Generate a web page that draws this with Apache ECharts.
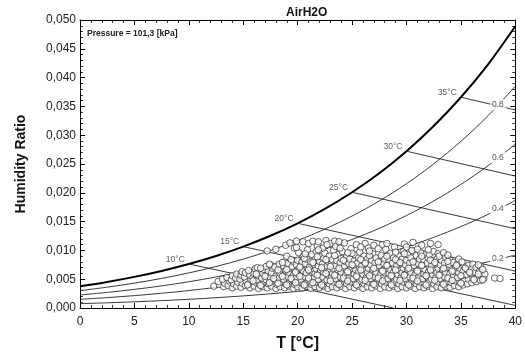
<!DOCTYPE html>
<html><head><meta charset="utf-8">
<script src="https://cdn.jsdelivr.net/npm/echarts@6/dist/echarts.min.js"></script>
<style>html,body{margin:0;padding:0;background:#fff}#c{width:525px;height:357px}</style>
</head><body><div id="c"></div>
<script>
const FONT = '"Liberation Sans", Arial, Helvetica, sans-serif';

// Dry-bulb temperature grid for the relative-humidity curves [°C]
const tGrid = [0,2.5,5,7.5,10,12.5,15,17.5,20,22.5,25,27.5,30,32.5,35,37.5,40];
// Humidity ratio [kg/kg] along each relative-humidity curve
const rh100 = [0.003776,0.004528,0.005405,0.006437,0.007634,0.009031,0.010653,0.012538,0.014703,0.017201,0.020091,0.023403,0.027217,0.031598,0.036594,0.042313,0.048906];
const rh80  = [0.003017,0.003617,0.004316,0.005139,0.006092,0.007204,0.008493,0.009990,0.011707,0.013708,0.015970,0.018583,0.021584,0.025025,0.028935,0.033396,0.038520];
const rh60  = [0.002260,0.002709,0.003231,0.003846,0.004558,0.005387,0.006348,0.007463,0.008739,0.010224,0.011901,0.013834,0.016049,0.018582,0.021452,0.024715,0.028449];
const rh40  = [0.001505,0.001803,0.002151,0.002559,0.003031,0.003581,0.004218,0.004955,0.005799,0.006779,0.007884,0.009155,0.010608,0.012266,0.014139,0.016262,0.018681];
const rh20  = [0.000751,0.000900,0.001073,0.001277,0.001512,0.001785,0.002102,0.002468,0.002886,0.003371,0.003917,0.004544,0.005259,0.006073,0.006990,0.008026,0.009202];

// Wet-bulb lines: start on saturation, end on chart border
const wetBulbLabels = ['10°C','15°C','20°C','25°C','30°C','35°C'];
const wetBulbStart = [[10,0.007634],[15,0.010653],[20,0.014703],[25,0.020091],[30,0.027217],[35,0.036594]];
const wetBulbEnd   = [[28.8,0],[40,0.000446],[40,0.006409],[40,0.013757],[40,0.022904],[40,0.034383]];

// Relative humidity labels
const rhLabels = ['0.8','0.6','0.4','0.2'];
const rhLabelPos = [[38.4,0.0353],[38.4,0.0261],[38.4,0.0172],[38.4,0.0085]];

// Measured states: [T °C, humidity ratio g/kg]
const measured_gkg = [
[12.3,3.8],[12.8,4.1],[12.7,4.6],[13.2,3.7],[13.3,4.3],[13.1,5.0],[13.6,3.9],[13.7,4.7],[13.5,5.3],
[14.0,3.5],[14.1,4.2],[13.9,4.9],[14.0,5.6],[14.4,3.8],[14.5,4.5],[14.3,5.2],[14.4,5.9],
[14.8,3.6],[14.9,4.3],[14.7,5.0],[14.8,5.7],[14.9,6.3],[15.2,3.9],[15.3,4.6],[15.1,5.4],[15.2,6.1],
[15.6,3.5],[15.5,4.2],[15.7,4.9],[15.6,5.7],[15.5,6.5],
[16.0,3.8],[16.1,4.5],[15.9,5.3],[16.0,6.0],[16.1,6.8],
[16.4,3.4],[16.5,4.1],[16.3,4.9],[16.4,5.6],[16.5,6.4],[16.3,7.0],
[16.8,3.7],[16.9,4.5],[16.7,5.2],[16.8,6.0],[16.9,6.7],
[17.2,3.5],[17.3,4.2],[17.1,4.9],[17.2,5.7],[17.3,6.4],[17.1,7.2],[17.2,9.9],
[17.6,3.8],[17.7,4.6],[17.5,5.3],[17.6,6.1],[17.7,6.9],[17.5,7.5],
[18.0,3.4],[18.1,4.1],[17.9,4.9],[18.0,5.6],[18.1,6.4],[17.9,7.1],[18.0,10.2],
[18.4,3.7],[18.5,4.5],[18.3,5.2],[18.4,6.0],[18.5,6.8],[18.3,7.6],
[18.8,3.5],[18.9,4.2],[18.7,5.0],[18.8,5.7],[18.9,6.5],[18.7,7.3],[18.8,8.0],[18.9,10.9],
[19.2,3.8],[19.3,4.6],[19.1,5.4],[19.2,6.2],[19.3,6.9],[19.1,7.7],[19.0,9.0],[19.3,11.3],
[19.6,3.4],[19.7,4.1],[19.5,4.9],[19.6,5.7],[19.7,6.4],[19.5,7.2],[19.6,8.1],[19.7,10.4],
[20.0,3.7],[20.1,4.5],[19.9,5.3],[20.0,6.0],[20.1,6.8],[19.9,7.5],[20.0,8.3],[20.1,9.6],[19.9,11.6],
[20.4,3.5],[20.5,4.2],[20.3,5.0],[20.4,5.8],[20.5,6.5],[20.3,7.3],[20.4,8.0],[20.5,8.9],[20.5,11.5],
[20.8,3.8],[20.9,4.6],[20.7,5.4],[20.8,6.1],[20.9,6.9],[20.7,7.7],[20.8,8.5],[20.9,10.1],[21.0,11.2],
[21.2,3.4],[21.3,4.1],[21.1,4.9],[21.2,5.6],[21.3,6.4],[21.1,7.2],[21.2,8.0],[21.3,9.3],[21.4,11.6],
[21.6,3.7],[21.7,4.5],[21.5,5.3],[21.6,6.0],[21.7,6.8],[21.5,7.6],[21.6,8.4],[21.7,9.8],[21.8,10.8],
[22.0,3.5],[22.1,4.3],[21.9,5.0],[22.0,5.8],[22.1,6.6],[21.9,7.3],[22.0,8.1],[22.1,8.9],[21.9,11.5],
[22.4,3.8],[22.5,4.6],[22.3,5.4],[22.4,6.2],[22.5,6.9],[22.3,7.7],[22.4,8.6],[22.5,9.5],[22.3,10.4],[22.6,11.7],
[22.8,3.4],[22.9,4.2],[22.7,4.9],[22.8,5.7],[22.9,6.5],[22.7,7.3],[22.8,8.1],[22.9,9.0],[23.0,11.2],
[23.2,3.7],[23.3,4.5],[23.1,5.3],[23.2,6.0],[23.3,6.8],[23.1,7.6],[23.2,8.4],[23.3,10.0],[23.4,11.6],
[23.6,3.5],[23.7,4.3],[23.5,5.1],[23.6,5.9],[23.7,6.6],[23.5,7.4],[23.6,8.2],[23.7,9.3],[23.5,10.7],[23.8,11.5],
[24.0,3.8],[24.1,4.6],[23.9,5.4],[24.0,6.2],[24.1,7.0],[23.9,7.8],[24.0,8.6],[24.1,9.8],
[24.4,3.4],[24.5,4.2],[24.3,5.0],[24.4,5.7],[24.5,6.5],[24.3,7.3],[24.4,8.1],[24.5,8.9],[24.3,11.3],
[24.8,3.7],[24.9,4.5],[24.7,5.3],[24.8,6.1],[24.9,6.9],[24.7,7.7],[24.8,8.5],[24.9,10.3],
[25.2,3.5],[25.3,4.3],[25.1,5.1],[25.2,5.9],[25.3,6.7],[25.1,7.4],[25.2,8.2],[25.3,9.2],[25.4,11.0],
[25.6,3.8],[25.7,4.6],[25.5,5.4],[25.6,6.2],[25.7,7.0],[25.5,7.8],[25.6,8.7],[25.7,9.7],
[26.0,3.4],[26.1,4.2],[25.9,5.0],[26.0,5.8],[26.1,6.6],[25.9,7.4],[26.0,8.2],[26.1,9.0],[26.2,11.2],
[26.4,3.7],[26.5,4.5],[26.3,5.3],[26.4,6.1],[26.5,6.9],[26.3,7.7],[26.4,8.5],[26.5,10.4],
[26.8,3.5],[26.9,4.3],[26.7,5.1],[26.8,5.9],[26.9,6.7],[26.7,7.5],[26.8,8.3],[26.9,9.4],[27.0,10.9],
[27.2,3.8],[27.3,4.6],[27.1,5.4],[27.2,6.2],[27.3,7.0],[27.1,7.8],[27.2,8.7],
[27.6,3.4],[27.7,4.2],[27.5,5.0],[27.6,5.8],[27.7,6.6],[27.5,7.4],[27.6,8.2],[27.7,9.1],[27.8,11.0],
[28.0,3.7],[28.1,4.5],[27.9,5.3],[28.0,6.1],[28.1,6.9],[27.9,7.7],[28.0,8.5],[28.1,10.2],
[28.4,3.5],[28.5,4.3],[28.3,5.1],[28.4,5.9],[28.5,6.7],[28.3,7.5],[28.4,8.3],[28.5,9.5],
[28.8,3.8],[28.9,4.6],[28.7,5.4],[28.8,6.2],[28.9,7.0],[28.7,7.8],[28.8,8.7],[28.9,10.6],
[29.2,3.4],[29.3,4.2],[29.1,5.0],[29.2,5.8],[29.3,6.6],[29.1,7.4],[29.2,8.2],[29.3,9.0],
[29.6,3.7],[29.7,4.5],[29.5,5.3],[29.6,6.1],[29.7,6.9],[29.5,7.7],[29.6,8.5],[29.7,9.8],[29.8,11.1],
[30.0,3.5],[30.1,4.3],[29.9,5.1],[30.0,5.9],[30.1,6.7],[29.9,7.5],[30.0,8.3],[30.1,9.3],
[30.4,3.8],[30.5,4.6],[30.3,5.4],[30.4,6.2],[30.5,7.0],[30.3,7.8],[30.4,8.7],[30.5,10.0],[30.6,11.4],
[30.8,3.4],[30.9,4.2],[30.7,5.0],[30.8,5.8],[30.9,6.6],[30.7,7.4],[30.8,8.2],[30.9,9.1],
[31.2,3.7],[31.3,4.5],[31.1,5.3],[31.2,6.1],[31.3,6.9],[31.1,7.7],[31.2,8.5],[31.3,9.6],[31.4,10.9],
[31.6,3.5],[31.7,4.3],[31.5,5.1],[31.6,5.9],[31.7,6.7],[31.5,7.5],[31.6,8.3],
[32.0,3.8],[32.1,4.6],[31.9,5.4],[32.0,6.2],[32.1,7.0],[31.9,7.8],[32.0,8.7],[32.1,9.3],[32.2,11.2],
[32.4,3.4],[32.5,4.2],[32.3,5.0],[32.4,5.8],[32.5,6.6],[32.3,7.4],[32.4,8.2],[32.5,9.8],
[32.8,3.7],[32.9,4.5],[32.7,5.3],[32.8,6.1],[32.9,6.9],[32.7,7.7],[32.8,8.5],[32.9,9.4],[32.9,11.0],
[33.2,3.5],[33.3,4.3],[33.1,5.1],[33.2,5.9],[33.3,6.7],[33.1,7.5],[33.2,8.3],
[33.6,3.8],[33.7,4.6],[33.5,5.4],[33.6,6.2],[33.7,7.0],[33.5,7.8],[33.6,8.8],
[34.0,3.6],[34.1,4.4],[33.9,5.2],[34.0,6.0],[34.1,6.8],[33.9,7.6],[34.0,8.3],
[34.4,3.9],[34.5,4.7],[34.3,5.5],[34.4,6.3],[34.5,7.1],[34.3,7.9],
[34.8,3.7],[34.9,4.5],[34.7,5.3],[34.8,6.1],[34.9,6.9],[34.7,7.7],[34.8,8.5],
[35.2,4.0],[35.3,4.8],[35.1,5.6],[35.2,6.4],[35.3,7.2],[35.1,8.0],
[35.6,4.2],[35.7,5.0],[35.5,5.8],[35.6,6.6],[35.7,7.4],
[36.0,4.4],[36.1,5.2],[35.9,6.0],[36.0,6.8],[36.1,7.6],
[36.4,4.6],[36.5,5.4],[36.3,6.2],[36.4,7.0],
[36.8,4.8],[36.9,5.6],[36.7,6.4],[36.8,7.2],
[37.1,5.1],[37.2,5.9],[37.0,6.7],
[38.1,5.2],[38.6,5.1],
[15.4,4.0],[15.9,4.7],[16.2,5.9],[16.6,3.9],[16.6,6.9],[17.0,5.5],[17.4,4.4],[17.4,7.6],[17.8,5.1],[18.2,4.3],
[18.2,6.6],[18.6,5.5],[18.6,7.9],[19.0,4.0],[19.0,6.7],[19.4,5.1],[19.4,8.4],[19.8,6.2],[19.8,4.4],[20.2,7.1],
[20.2,5.5],[20.6,4.0],[20.6,8.6],[21.0,6.6],[21.0,5.2],[21.4,7.9],[21.4,4.4],[21.8,5.7],[21.8,8.9],[22.2,7.0],
[22.2,4.0],[22.6,6.0],[22.6,8.4],[23.0,4.7],[23.0,7.2],[23.4,5.7],[23.4,9.1],[23.8,6.9],[23.8,4.1],[24.2,8.3],
[24.2,5.2],[24.6,6.3],[24.6,4.7],[25.0,7.5],[25.0,9.5],[25.4,5.5],[25.4,4.0],[25.8,6.6],[25.8,8.4],[26.2,4.8],
[26.2,7.8],[26.6,5.6],[26.6,9.1],[27.0,6.9],[27.0,4.1],[27.4,8.0],[27.4,5.2],[27.8,6.4],[27.8,4.7],[28.2,7.4],
[28.2,9.0],[28.6,5.6],[28.6,4.0],[29.0,6.6],[29.0,8.4],[29.4,4.8],[29.4,7.9],[29.8,5.7],[29.8,9.4],[30.2,6.9],
[30.2,4.0],[30.6,8.0],[30.6,5.2],[31.0,6.4],[31.0,4.7],[31.4,7.4],[31.4,9.0],[31.8,5.6],[31.8,4.0],[32.2,6.6],
[32.2,8.3],[32.6,4.8],[32.6,7.9],[33.0,5.7],[33.0,9.0],[33.4,6.9],[33.4,4.1],[33.8,8.1],[33.8,5.2],[34.2,6.4],
[34.2,4.8],[34.6,7.4],[35.0,5.6],[35.0,4.3],[35.4,6.9],[35.8,6.2],[36.2,4.9],[36.6,5.9],[36.6,7.5],[37.0,4.9],
[19.9,10.5],[20.7,9.4],[21.9,10.1],[22.7,11.0],[23.9,10.4],[24.6,9.6],[25.8,10.6],[26.6,9.9],[27.4,10.3],[28.2,11.2],
[29.0,9.7],[30.0,10.6],[31.0,10.2],[32.0,10.1],[33.4,9.6],[33.8,9.2]
];

const thin = {color:'#222', width:0.9};
function rhSeries(arr, bold){
  return {type:'line', data:tGrid.map((t,i)=>[t,arr[i]]), showSymbol:false, symbol:'none',
    smooth:0.35, silent:true, z:2,
    lineStyle: bold ? {color:'#000', width:2} : thin};
}
const series = [
  rhSeries(rh100,true), rhSeries(rh80), rhSeries(rh60), rhSeries(rh40), rhSeries(rh20)
];
wetBulbStart.forEach((s,i)=>{
  series.push({type:'line', data:[s, wetBulbEnd[i]], showSymbol:false, symbol:'none', silent:true, z:2, lineStyle:thin});
});
series.push({type:'scatter', data:measured_gkg.map(p=>[p[0], p[1]/1000]), symbol:'circle', symbolSize:6.5, z:5,
  itemStyle:{color:'#fff', borderColor:'#2a2a2a', borderWidth:0.9}});
series.push({type:'scatter', data:wetBulbStart, symbolSize:0.1, z:6, silent:true,
  itemStyle:{color:'rgba(0,0,0,0)'},
  label:{show:true, position:'left', distance:4, offset:[0,-4.5], fontSize:8.5, color:'#333', fontFamily:FONT,
    formatter:p=>wetBulbLabels[p.dataIndex]}});
series.push({type:'scatter', data:rhLabelPos, symbolSize:0.1, z:6, silent:true,
  itemStyle:{color:'rgba(0,0,0,0)'},
  label:{show:true, position:'inside', fontSize:8.5, color:'#333', fontFamily:FONT, backgroundColor:'#fff', padding:[1,2],
    formatter:p=>rhLabels[p.dataIndex]}});

const axLine = {show:true, onZero:false, lineStyle:{color:'#000', width:1}};
const tick = {show:true, inside:true, length:5, lineStyle:{color:'#000', width:1}};
const minor = {show:true, splitNumber:5, length:3, lineStyle:{color:'#000', width:0.8}};

const option = {
  animation:false,
  backgroundColor:'#fff',
  title:{text:'AirH2O', left:286, top:7, padding:0, textStyle:{fontSize:12, fontWeight:'bold', color:'#111', fontFamily:FONT}},
  grid:{left:80, right:9, top:20, bottom:48, containLabel:false},
  xAxis:[
    {type:'value', min:0, max:40, interval:5, position:'bottom', axisLine:axLine, axisTick:tick, minorTick:minor,
     splitLine:{show:false}, axisLabel:{margin:8, fontSize:12, color:'#222', fontFamily:FONT},
     name:'T [°C]', nameLocation:'middle', nameGap:28,
     nameTextStyle:{fontSize:16, fontWeight:'bold', color:'#111', fontFamily:FONT}},
    {type:'value', min:0, max:40, interval:5, position:'top', axisLine:axLine, axisTick:tick, minorTick:minor,
     splitLine:{show:false}, axisLabel:{show:false}}
  ],
  yAxis:[
    {type:'value', min:0, max:0.05, interval:0.005, position:'left', axisLine:axLine, axisTick:tick, minorTick:minor,
     splitLine:{show:false},
     axisLabel:{margin:4, fontSize:12, color:'#222', fontFamily:FONT, formatter:v=>v.toFixed(3).replace('.',',')},
     name:'Humidity Ratio', nameLocation:'middle', nameGap:52,
     nameTextStyle:{fontSize:14, fontWeight:'bold', color:'#111', fontFamily:FONT}},
    {type:'value', min:0, max:0.05, interval:0.005, position:'right', axisLine:axLine, axisTick:tick, minorTick:minor,
     splitLine:{show:false}, axisLabel:{show:false}}
  ],
  graphic:[{type:'text', left:87, top:29, z:10,
    style:{text:'Pressure = 101,3 [kPa]', font:'bold 8.5px ' + FONT, fill:'#222'}}],
  series: series
};
const chart = echarts.init(document.getElementById('c'), null, {renderer:'canvas'});
chart.setOption(option);
</script></body></html>
